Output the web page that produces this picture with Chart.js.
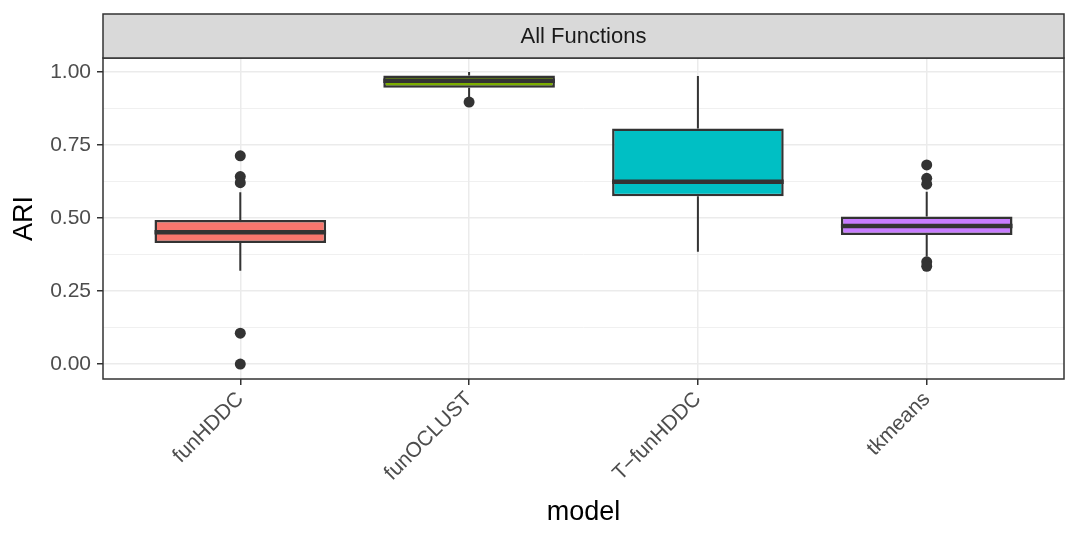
<!DOCTYPE html>
<html><head><meta charset="utf-8">
<script src="https://cdn.jsdelivr.net/npm/chart.js@4/dist/chart.umd.min.js"></script>
<style>html,body{margin:0;padding:0;background:#fff}</style>
</head><body>
<canvas id="c" width="1079" height="540"></canvas>
<script>
// ---- data ----
const categories = ['funHDDC', 'funOCLUST', 'T\u2212funHDDC', 'tkmeans'];
const fills = ['#F8766D', '#7CAE00', '#00BFC4', '#C77CFF'];
const whiskerLow = [0.320, 0.905, 0.385, 0.368];
const q1 = [0.415, 0.946, 0.575, 0.442];
const median = [0.451, 0.970, 0.624, 0.473];
const q3 = [0.493, 0.988, 0.807, 0.505];
const whiskerHigh = [0.588, 1.000, 0.986, 0.590];
const outliersFunHDDC = [0.713, 0.642, 0.621, 0.106, 0.000];
const outliersFunOCLUST = [0.897];
const outliersTfunHDDC = [];
const outliersTkmeans = [0.682, 0.636, 0.616, 0.350, 0.335];
const yTickValues = [0, 0.25, 0.5, 0.75, 1.0];
const yTickLabels = ['0.00', '0.25', '0.50', '0.75', '1.00'];
const stripLabel = 'All Functions';
const xTitle = 'model';
const yTitle = 'ARI';

const outlierGroups = [outliersFunHDDC, outliersFunOCLUST, outliersTfunHDDC, outliersTkmeans];
const outlierPoints = [];
outlierGroups.forEach((g, i) => g.forEach(v => outlierPoints.push({x: i + 1, y: v})));

const FONT = "'Liberation Sans', Arial, Helvetica, sans-serif";
const DARK = '#333333';

const boxPlugin = {
  id: 'boxDecor',
  beforeDatasetsDraw(chart) {
    const {ctx, scales: {x, y}} = chart;
    ctx.save();
    ctx.strokeStyle = DARK;
    ctx.lineWidth = 2;
    categories.forEach((c, i) => {
      const px = x.getPixelForValue(i + 1);
      ctx.beginPath();
      ctx.moveTo(px, y.getPixelForValue(whiskerLow[i]));
      ctx.lineTo(px, y.getPixelForValue(q1[i]));
      ctx.moveTo(px, y.getPixelForValue(q3[i]));
      ctx.lineTo(px, y.getPixelForValue(whiskerHigh[i]));
      ctx.stroke();
    });
    ctx.restore();
  },
  afterDatasetsDraw(chart) {
    const {ctx, scales: {y}} = chart;
    const meta = chart.getDatasetMeta(0);
    ctx.save();
    ctx.strokeStyle = DARK;
    ctx.lineWidth = 4.5;
    meta.data.forEach((el, i) => {
      const py = y.getPixelForValue(median[i]);
      ctx.beginPath();
      ctx.moveTo(el.x - el.width / 2, py);
      ctx.lineTo(el.x + el.width / 2, py);
      ctx.stroke();
    });
    ctx.restore();
  },
  afterDraw(chart) {
    const {ctx, chartArea: a} = chart;
    ctx.save();
    ctx.strokeStyle = DARK;
    ctx.lineWidth = 1.5;
    ctx.strokeRect(a.left, a.top, a.right - a.left, a.bottom - a.top);
    const sh = 44;
    ctx.fillStyle = '#D9D9D9';
    ctx.fillRect(a.left, a.top - sh, a.right - a.left, sh);
    ctx.strokeRect(a.left, a.top - sh, a.right - a.left, sh);
    ctx.fillStyle = '#1A1A1A';
    ctx.font = '22px ' + FONT;
    ctx.textAlign = 'center';
    ctx.textBaseline = 'middle';
    ctx.fillText(stripLabel, (a.left + a.right) / 2, a.top - sh / 2 + 1);
    ctx.restore();
  }
};

new Chart(document.getElementById('c'), {
  type: 'bar',
  data: {
    datasets: [
      {
        type: 'bar',
        data: categories.map((c, i) => ({x: i + 1, y: [q1[i], q3[i]]})),
        backgroundColor: fills,
        borderColor: DARK,
        borderWidth: 2.5,
        borderSkipped: false,
        barPercentage: 0.75,
        categoryPercentage: 1,
        order: 2
      },
      {
        type: 'scatter',
        data: outlierPoints,
        pointRadius: 5.5,
        pointBackgroundColor: DARK,
        pointBorderWidth: 0,
        order: 1
      }
    ]
  },
  options: {
    responsive: false,
    animation: false,
    layout: {padding: {top: 58, right: 15, bottom: 0, left: 0}},
    plugins: {legend: {display: false}, tooltip: {enabled: false}},
    scales: {
      x: {
        type: 'linear',
        min: 0.4, max: 4.6,
        offset: false,
        border: {display: false},
        grid: {offset: false, color: '#EBEBEB', lineWidth: 1.5, tickColor: DARK, tickLength: 6, tickWidth: 1.5},
        ticks: {
          stepSize: 1, autoSkip: false, includeBounds: false,
          maxRotation: 45, minRotation: 45, padding: 2,
          color: '#4D4D4D', font: {family: FONT, size: 21},
          callback: v => Number.isInteger(v) && categories[v - 1] ? categories[v - 1] : ''
        },
        title: {display: true, text: xTitle, color: '#000', font: {family: FONT, size: 27}, padding: {top: 0, bottom: 11}},
        afterFit: s => { s.height = 161; }
      },
      y: {
        type: 'linear',
        min: -0.051, max: 1.048,
        border: {display: false},
        grid: {
          color: '#EBEBEB',
          lineWidth: ctx => {
            const v = ctx.tick ? ctx.tick.value : 0;
            return yTickValues.some(t => Math.abs(t - v) < 1e-6) ? 1.5 : 0.75;
          },
          tickColor: ctx => {
            const v = ctx.tick ? ctx.tick.value : 0;
            return yTickValues.some(t => Math.abs(t - v) < 1e-6) ? DARK : 'rgba(0,0,0,0)';
          },
          tickLength: 6, tickWidth: 1.5
        },
        ticks: {
          stepSize: 0.125, autoSkip: false, includeBounds: false, padding: 6,
          color: '#4D4D4D', font: {family: FONT, size: 21},
          callback: v => {
            const k = yTickValues.findIndex(t => Math.abs(t - v) < 1e-6);
            return k >= 0 ? yTickLabels[k] : '';
          }
        },
        title: {display: true, text: yTitle, color: '#000', font: {family: FONT, size: 27}, padding: {top: 8, bottom: 0}},
        afterFit: s => { s.width = 103; }
      }
    }
  },
  plugins: [boxPlugin]
});
</script>
</body></html>
